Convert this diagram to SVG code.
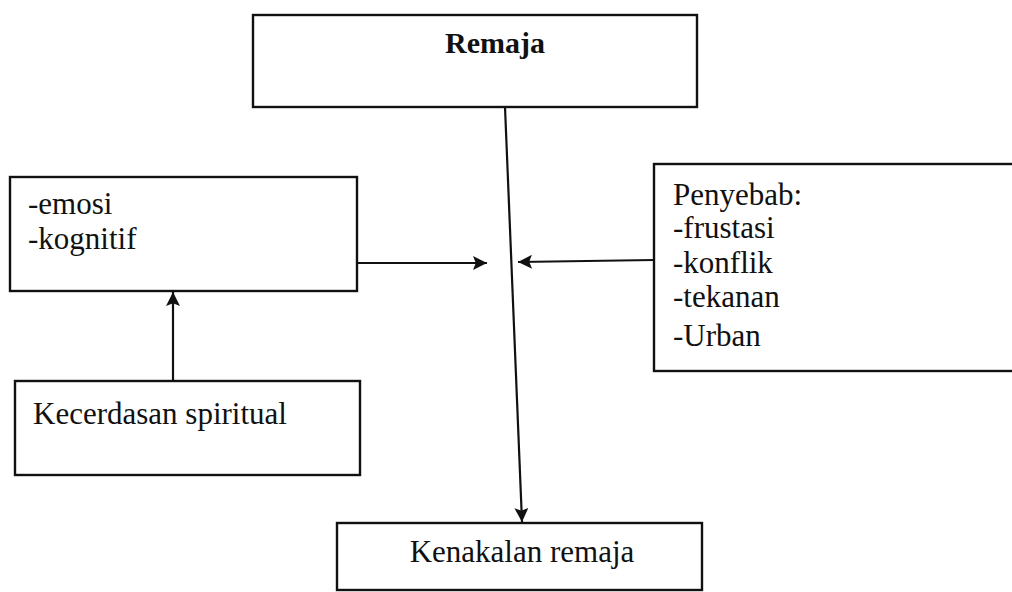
<svg xmlns="http://www.w3.org/2000/svg" width="1012" height="592" viewBox="0 0 1012 592">
<style>
.box{fill:#fff;stroke:#111;stroke-width:2.4}
.t{font-family:"Liberation Serif","Times New Roman",serif;font-size:31px;fill:#111}
.b{font-weight:bold;font-size:30px}
.c{stroke:#111;stroke-width:2.2;fill:none}
</style>
<defs>
<marker id="ah" viewBox="0 0 10 10" refX="10" refY="5" markerWidth="15" markerHeight="14" markerUnits="userSpaceOnUse" orient="auto">
<path d="M0,0 L10,5 L0,10 L2,5 z" fill="#111"/>
</marker>
</defs>
<rect width="1012" height="592" fill="#fff"/>
<g id="remaja">
<rect class="box" x="253" y="15" width="444" height="92"/>
<text class="t b" x="495" y="53" text-anchor="middle">Remaja</text>
</g>
<g id="emosi">
<rect class="box" x="10" y="177" width="347" height="114"/>
<text class="t" x="28" y="214">-emosi</text>
<text class="t" x="28" y="249">-kognitif</text>
</g>
<g id="penyebab">
<rect class="box" x="654" y="164" width="380" height="207"/>
<text class="t" x="673" y="205">Penyebab:</text>
<text class="t" x="673" y="238">-frustasi</text>
<text class="t" x="673" y="273">-konflik</text>
<text class="t" x="673" y="307">-tekanan</text>
<text class="t" x="673" y="346">-Urban</text>
</g>
<g id="kecerdasan">
<rect class="box" x="15" y="381" width="345" height="94"/>
<text class="t" x="33" y="424">Kecerdasan spiritual</text>
</g>
<g id="kenakalan">
<rect class="box" x="337" y="523" width="365" height="67"/>
<text class="t" x="522" y="562" text-anchor="middle">Kenakalan remaja</text>
</g>
<g id="connectors">
<line class="c" x1="505" y1="107" x2="522" y2="522" marker-end="url(#ah)"/>
<line class="c" x1="357" y1="263" x2="487" y2="263" marker-end="url(#ah)"/>
<line class="c" x1="654" y1="260" x2="518" y2="262" marker-end="url(#ah)"/>
<line class="c" x1="173" y1="381" x2="173" y2="292" marker-end="url(#ah)"/>
</g>
</svg>
